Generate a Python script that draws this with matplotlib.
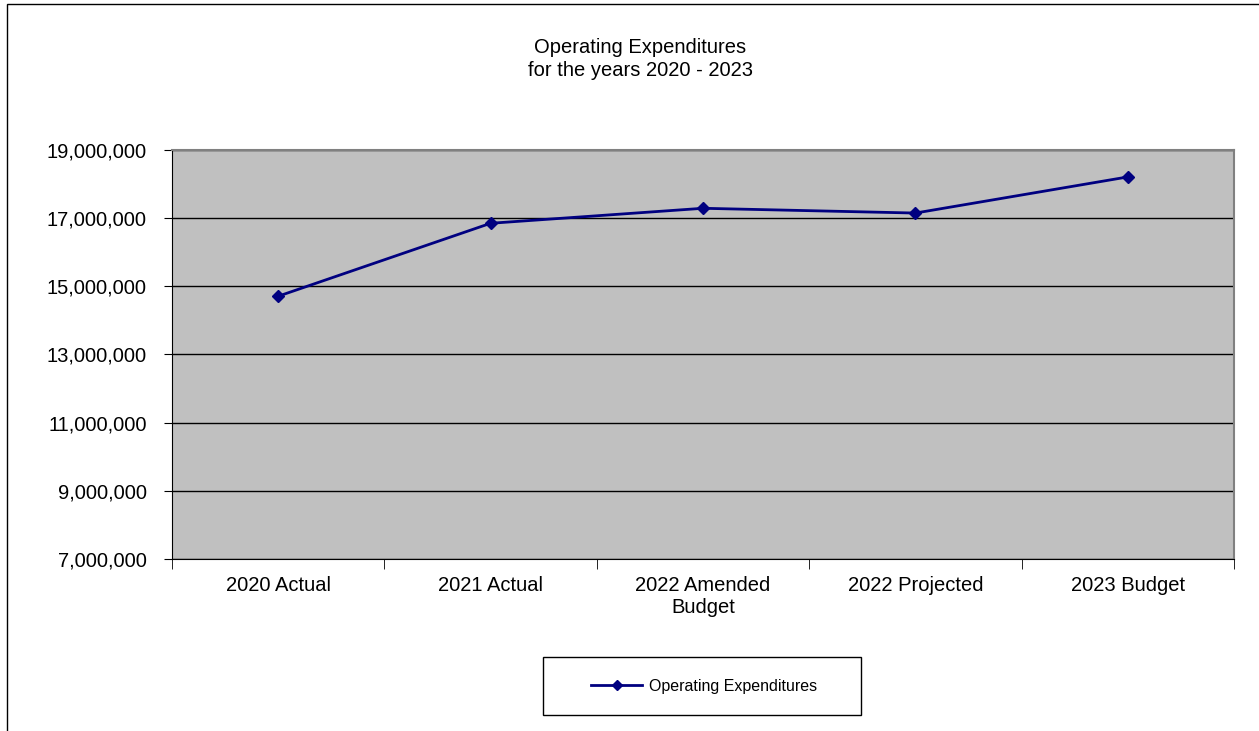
import matplotlib.pyplot as plt
from matplotlib.ticker import FuncFormatter, FixedLocator
from matplotlib.patches import Rectangle

categories = ['2020 Actual', '2021 Actual', '2022 Amended\nBudget', '2022 Projected', '2023 Budget']
expenditures = [14710000, 16850000, 17290000, 17150000, 18210000]
y_ticks = [7000000, 9000000, 11000000, 13000000, 15000000, 17000000, 19000000]

plt.rcParams['font.family'] = ['Liberation Sans', 'DejaVu Sans']

W, H = 1259, 731
fig = plt.figure(figsize=(W / 100, H / 100), dpi=100)
ax = fig.add_axes([172 / W, 1 - 559 / H, (1234 - 172) / W, (559 - 150) / H])

# outer chart frame (left and top edges visible)
fig.patches.append(Rectangle((7 / W, -0.01), 1.1, 1.01 - 4 / H, transform=fig.transFigure,
                             fill=False, edgecolor='black', linewidth=1))

ax.set_facecolor('#c0c0c0')
x = range(len(categories))
ax.plot(x, expenditures, color='#000080', marker='D', markersize=6.5, linewidth=2,
        label='Operating Expenditures')

ax.set_xlim(-0.5, len(categories) - 0.5)
ax.set_ylim(7000000, 19000000)
ax.set_yticks(y_ticks)
ax.yaxis.set_major_formatter(FuncFormatter(lambda v, p: f'{v:,.0f}'))
ax.grid(axis='y', color='black', linewidth=1)
ax.set_axisbelow(True)

ax.set_xticks(list(x))
ax.set_xticklabels(categories, fontsize=14.5, linespacing=1.25)
ax.tick_params(axis='x', length=0, pad=12)
ax.xaxis.set_minor_locator(FixedLocator([i - 0.5 for i in range(len(categories) + 1)]))
ax.tick_params(axis='x', which='minor', length=7, direction='out')
ax.tick_params(axis='y', labelsize=14.5, length=6, direction='out', pad=12)

for s in ['top', 'right']:
    ax.spines[s].set_color('#808080')
    ax.spines[s].set_linewidth(1.5)
ax.spines['left'].set_color('black')
ax.spines['bottom'].set_color('black')

fig.text(640 / W, 1 - 59 / H, 'Operating Expenditures\nfor the years 2020 - 2023',
         ha='center', va='center', fontsize=14.5, linespacing=1.25)

# legend box
fig.patches.append(Rectangle((543 / W, 1 - 715 / H), (861 - 543) / W, 58 / H,
                             transform=fig.transFigure, fill=False, edgecolor='black',
                             linewidth=1))
ax.legend(loc='center', bbox_to_anchor=(704 / W, 1 - 686 / H), bbox_transform=fig.transFigure,
          fontsize=11.5, frameon=False, handlelength=3.2, handletextpad=0.4,
          borderaxespad=0, markerscale=0.8)

fig.savefig('out.png', dpi=100)
